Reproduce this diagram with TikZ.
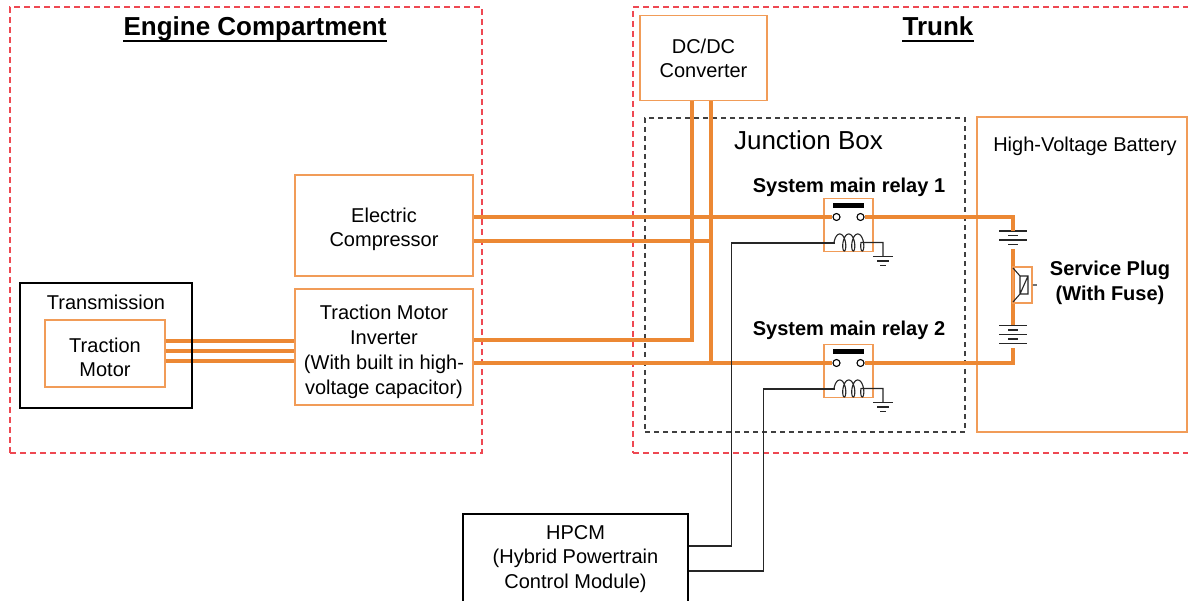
\documentclass[tikz,border=0pt]{standalone}
\usepackage{fontspec}
\setmainfont{Liberation Sans}
\definecolor{wireorange}{RGB}{236,136,52}
\definecolor{boxorange}{RGB}{241,156,88}
\definecolor{zonered}{RGB}{238,72,82}
\newcommand\txtsize{\fontsize{20}{24.5}\selectfont}
\begin{document}
\begin{tikzpicture}[x=1pt, y=-1pt,
  zone/.style={draw=zonered, line width=1.3, dash pattern=on 6pt off 4pt},
  jbox/.style={draw=black!75, line width=1.3, dash pattern=on 5pt off 4pt},
  obox/.style={draw=boxorange, line width=1.5, align=center, font=\txtsize, inner sep=0},
  kbox/.style={draw=black, line width=1.3, align=center, font=\txtsize, inner sep=0},
  lbl/.style={font=\txtsize, align=center, inner sep=0},
  blbl/.style={font=\txtsize\bfseries, align=center, inner sep=0},
  ttl/.style={font=\fontsize{26}{30}\selectfont\bfseries, inner sep=0, anchor=base},
  pwire/.style={draw=wireorange, line width=4},
  bwire/.style={draw=black!85, line width=1.4},
  contact/.style={circle, draw, line width=1.1, fill=white, minimum size=7, inner sep=0},
  relay/.pic={
    \draw[obox] (-24.5,-26.5) rectangle (24.5,26.5);
    \fill (-15.5,-22) rectangle (15.5,-17);
    \node[contact] (-a) at (-12,-8) {};
    \node[contact] (-b) at (12,-8) {};
    \coordinate (-c) at (-13.5,18);
    \draw[bwire, line width=1.1] plot[domain=90:1170, samples=150, smooth] ({-13.25+9*\x/360-3.5*sin(\x)},{17.5+8.5*cos(\x)}) -- (34.5,17.5) -- (34.5,31.5);
    \draw[bwire] (24.5,31.5) -- (44.5,31.5) (28.5,36) -- (40.5,36) (31.5,40.5) -- (37.5,40.5);
  }]
\useasboundingbox (0,0) rectangle (1188,601);

% zones
\node[zone, minimum width=472, minimum height=446] (engine) at (246,230) {};
\node[zone, minimum width=570, minimum height=446] (trunk) at (918,230) {};
\node[ttl] (engttl) at (255,36) {Engine Compartment};
\node[ttl] (trkttl) at (938,36) {Trunk};
\draw[line width=1.8] ([yshift=-5pt]engttl.base west) -- ([yshift=-5pt]engttl.base east);
\draw[line width=1.8] ([yshift=-5pt]trkttl.base west) -- ([yshift=-5pt]trkttl.base east);

\node[jbox, minimum width=320, minimum height=314] (junc) at (805,275) {};
\node[lbl, font=\fontsize{26}{30}\selectfont, anchor=base] (junclbl) at (808.5,150) {Junction Box};
\node[obox, minimum width=210, minimum height=315] (bat) at (1082,274.5) {};
\node[lbl, anchor=base] (batlbl) at (1085,152) {High-Voltage Battery};

% units
\node[obox, minimum width=127, minimum height=85, text height=40] (dcdc) at (703.5,58) {DC/DC\\Converter};
\node[obox, minimum width=178, minimum height=101, text height=46.6] (comp) at (384,225.5) {Electric\\Compressor};
\node[obox, minimum width=178, minimum height=116, text height=98.2, font=\fontsize{20}{25}\selectfont] (inv) at (384,347) {Traction Motor\\Inverter\\(With built in high-\\voltage capacitor)};
\node[obox, minimum width=120, minimum height=67, text height=47] (motor) at (105,353.5) {Traction\\Motor};
\node[kbox, minimum width=225, minimum height=90] (hpcm) at (575.5,559) {HPCM\\(Hybrid Powertrain\\Control Module)};

% relays
\pic (r1) at (848.5,225) {relay};
\pic (r2) at (848.5,371) {relay};
\node[blbl, anchor=base] (r1lbl) at (849,193) {System main relay 1};
\node[blbl, anchor=base] (r2lbl) at (849,335) {System main relay 2};

% battery cells and service plug
\coordinate (cA-n) at (1013,231);
\coordinate (cA-s) at (1013,249);
\coordinate (cB-n) at (1013,325.5);
\coordinate (cB-s) at (1013,348);
\coordinate (dcL) at ([xshift=-11.5pt]dcdc.south);
\coordinate (dcR) at ([xshift=7.5pt]dcdc.south);
\foreach \y/\w in {231/14, 235.5/5, 240/14, 244.5/5, 325.5/14, 330/5, 334.5/14, 339/5, 343.5/14}
  \draw[bwire] ({1013-\w},\y) -- ({1013+\w},\y);

% high voltage wires
\draw[pwire] (comp.east |- r1-a) -- (r1-a);
\draw[pwire] (r1-b) -| (cA-n);
\draw[pwire] (cA-s) -- (cB-n);
\draw[pwire] (cB-s) |- (r2-b);
\draw[pwire] (inv.east |- r2-a) -- (r2-a);
\draw[pwire] (comp.east |- 0,241) -- (dcR |- 0,241);
\draw[pwire] (dcL) |- (inv.east |- 0,340);
\draw[pwire] (dcR) -- (dcR |- r2-a);
\foreach \y in {341,351,361}
  \draw[pwire] (motor.east |- 0,\y) -- (inv.west |- 0,\y);

\node[obox, minimum width=19, minimum height=36] (plug) at (1022.5,285) {};
\draw[bwire, line width=1.1] (1020,276) rectangle (1028,294) (1020,294) -- (1028,276)
  (1013,268) -- (1020,276) (1013,302) -- (1020,294) (plug.east) -- ++(4,0);
\node[blbl] (pluglbl) at (1110,283) {Service Plug\\(With Fuse)};

% control wires
\draw[bwire] ([yshift=13pt]hpcm.east) -- ++(43,0) |- (r1-c);
\draw[bwire] ([yshift=-12pt]hpcm.east) -- ++(75,0) |- (r2-c);

\node[kbox, minimum width=172, minimum height=125] (trans) at (106,345.5) {};
\node[lbl] (translbl) at (106,302) {Transmission};
\end{tikzpicture}
\end{document}
